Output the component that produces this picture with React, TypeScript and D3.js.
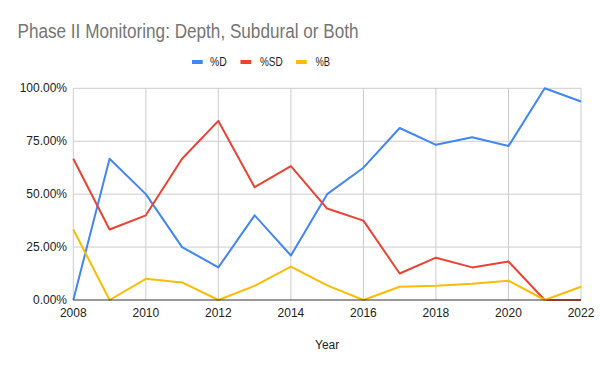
import React from "react";
import * as d3 from "d3";

const years = [2008, 2009, 2010, 2011, 2012, 2013, 2014, 2015, 2016, 2017, 2018, 2019, 2020, 2021, 2022];
const pctD = [0, 66.7, 50, 25, 15.4, 40, 21, 50, 62.5, 81.25, 73.3, 76.9, 72.7, 100, 93.75];
const pctSD = [66.7, 33.3, 40, 66.7, 84.6, 53.3, 63.2, 43.2, 37.5, 12.5, 20, 15.4, 18.2, 0, 0];
const pctB = [33.3, 0, 10, 8.3, 0, 6.7, 15.8, 6.9, 0, 6.25, 6.7, 7.7, 9.1, 0, 6.25];
const yTicks = [0, 25, 50, 75, 100];
const xTicks = [2008, 2010, 2012, 2014, 2016, 2018, 2020, 2022];
const seriesNames = ["%D", "%SD", "%B"];
const colors = ["#4285F4", "#EA4335", "#FBBC04"];

export default function App() {
  const W = 600, H = 371;
  const x = d3.scaleLinear().domain([2008, 2022]).range([73.3, 581]);
  const y = d3.scaleLinear().domain([0, 100]).range([300, 88.3]);
  const font = "'Liberation Sans', Arial, sans-serif";
  const series = [pctD, pctSD, pctB];
  const line = (vals: number[]) =>
    d3.line<number>().x((_, i) => x(years[i])).y((v) => y(v))(vals) || "";
  const legendX = [192, 240.5, 296];
  const legendTextX = [210, 260, 315.5];
  const legendTextW = [16.7, 22.7, 14.5];
  return (
    <svg width={W} height={H} style={{ position: "absolute", left: 0, top: 0, fontFamily: font }}>
      <rect width={W} height={H} fill="#fff" />
      <text x={17.5} y={38} fontSize={20} fill="#757575" textLength={341} lengthAdjust="spacingAndGlyphs">
        Phase II Monitoring: Depth, Subdural or Both
      </text>
      {seriesNames.map((n, i) => (
        <g key={n}>
          <rect x={legendX[i]} y={60} width={10.7} height={4} fill={colors[i]} />
          <text x={legendTextX[i]} y={66} fontSize={12} fill="#222" textLength={legendTextW[i]} lengthAdjust="spacingAndGlyphs">{n}</text>
        </g>
      ))}
      {yTicks.map((t) => (
        <g key={t}>
          {t > 0 && <line x1={x(2008)} x2={x(2022)} y1={y(t)} y2={y(t)} stroke="#cccccc" strokeWidth={1} />}
          <text x={67} y={y(t) + 4} fontSize={12} textAnchor="end" fill="#222">{t.toFixed(2)}%</text>
        </g>
      ))}
      {xTicks.map((t) => (
        <g key={t}>
          <line x1={x(t)} x2={x(t)} y1={y(100)} y2={y(0)} stroke="#cccccc" strokeWidth={1} />
          <text x={x(t)} y={317} fontSize={12} textAnchor="middle" fill="#222">{t}</text>
        </g>
      ))}
      {series.map((s, i) => (
        <path key={i} d={line(s)} fill="none" stroke={colors[i]} strokeWidth={2} strokeLinejoin="round" />
      ))}
      <line x1={x(2008)} x2={x(2022)} y1={y(0)} y2={y(0)} stroke="#333" strokeWidth={1} />
      <text x={(x(2008) + x(2022)) / 2} y={349} fontSize={12} textAnchor="middle" fill="#222">Year</text>
    </svg>
  );
}
